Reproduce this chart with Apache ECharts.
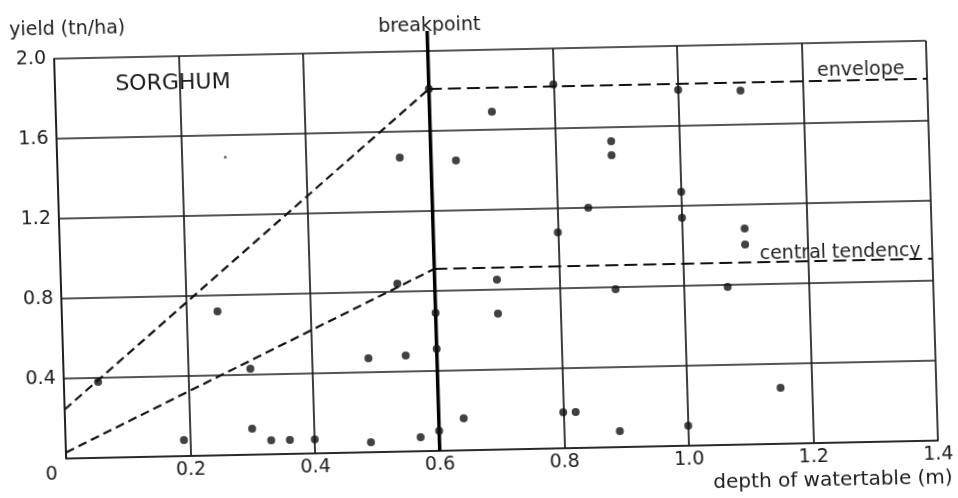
<!DOCTYPE html>
<html>
<head>
<meta charset="utf-8">
<script src="https://cdn.jsdelivr.net/npm/echarts@6/dist/echarts.min.js"></script>
<style>
html, body { margin: 0; padding: 0; background: #fff; overflow: hidden; }
#wrap { position: absolute; left: 0; top: 0; width: 958px; height: 498px; overflow: hidden; }
/* the scanned figure sits a little tilted on the page */
#chart { position: absolute; left: -21px; top: -31px; width: 1000px; height: 560px;
         transform: rotate(-1.18deg) skewX(0.54deg); }
</style>
</head>
<body>
<div id="wrap"><div id="chart"></div></div>
<script>
// depth of watertable (m), yield (tn/ha)
var yieldPoints = [
    [0.055, 0.38], [0.19, 0.08], [0.25, 0.72], [0.30, 0.43], [0.30, 0.13],
    [0.33, 0.07], [0.36, 0.07], [0.40, 0.07], [0.49, 0.47], [0.49, 0.05],
    [0.54, 0.84], [0.55, 1.47], [0.55, 0.48], [0.57, 0.07], [0.60, 0.69],
    [0.60, 0.51], [0.60, 0.10], [0.60, 1.81], [0.64, 1.45], [0.64, 0.16],
    [0.70, 1.69], [0.70, 0.85], [0.70, 0.68], [0.80, 1.82], [0.80, 1.08],
    [0.80, 0.18], [0.82, 0.18], [0.85, 1.20], [0.89, 1.53], [0.89, 1.46],
    [0.89, 0.79], [0.89, 0.08], [1.00, 1.78], [1.00, 1.27], [1.00, 1.14],
    [1.00, 0.10], [1.07, 0.79], [1.10, 1.77], [1.10, 1.08], [1.10, 1.00],
    [1.15, 0.28]
];
var faintPoints = [[0.27, 1.49]];

var envelopeRise = [[0, 0.245], [0.60, 1.81]];
var envelopeFlat = [[0.60, 1.81], [1.4, 1.81]];
var centralRise = [[0, 0.03], [0.60, 0.91]];
var centralFlat = [[0.60, 0.91], [1.4, 0.91]];
var breakpointLine = [[0.60, 0], [0.60, 2.1]];

var xMin = 0, xMax = 1.4, xStep = 0.2;
var yMin = 0, yMax = 2.0, yStep = 0.4;

var ink = '#111';
var font = 'DejaVu Sans';

var gridLine = { color: '#1c1c1c', width: 1.7 };

function dashed(data, dash) {
    return {
        type: 'line',
        data: data,
        symbol: 'none',
        silent: true,
        animation: false,
        clip: false,
        z: 3,
        lineStyle: { color: ink, width: 2.2, type: dash }
    };
}

var option = {
    backgroundColor: '#ffffff',
    animation: false,
    grid: { left: 81, top: 81, width: 872, height: 400 },
    xAxis: {
        type: 'value',
        min: xMin, max: xMax, interval: xStep,
        axisLine: { show: true, lineStyle: gridLine },
        axisTick: { show: false },
        splitLine: { show: true, lineStyle: gridLine },
        axisLabel: {
            margin: 5,
            color: '#1a1a1a',
            fontFamily: font,
            fontSize: 19,
            formatter: function (v) {
                return v === 0 ? '{o|0}' : v.toFixed(1);
            },
            rich: {
                o: { fontFamily: font, fontSize: 19, color: '#1a1a1a', padding: [2, 30, 0, 0] }
            }
        }
    },
    yAxis: {
        type: 'value',
        min: yMin, max: yMax, interval: yStep,
        axisLine: { show: true, lineStyle: gridLine },
        axisTick: { show: false },
        splitLine: { show: true, lineStyle: gridLine },
        axisLabel: {
            margin: 8,
            color: '#1a1a1a',
            fontFamily: font,
            fontSize: 19,
            formatter: function (v) {
                return v === 0 ? '' : v.toFixed(1);
            }
        }
    },
    graphic: [
        { type: 'text', left: 37, top: 43, style: { text: 'yield (tn/ha)', font: '19px "DejaVu Sans"', fill: '#1a1a1a' } },
        { type: 'text', x: 457, y: 56, style: { text: 'breakpoint', font: '19px "DejaVu Sans"', fill: '#1a1a1a', textAlign: 'center', textVerticalAlign: 'middle' } },
        { type: 'text', x: 199, y: 108, style: { text: 'SORGHUM', font: '22px "DejaVu Sans"', fill: '#1a1a1a', textAlign: 'center', textVerticalAlign: 'middle' } },
        { type: 'text', x: 887, y: 109, style: { text: 'envelope', font: '19px "DejaVu Sans"', fill: '#222', textAlign: 'center', textVerticalAlign: 'middle' } },
        { type: 'text', x: 861, y: 291, style: { text: 'central tendency', font: '19px "DejaVu Sans"', fill: '#222', textAlign: 'center', textVerticalAlign: 'middle' } },
        { type: 'text', x: 847, y: 519, style: { text: 'depth of watertable (m)', font: '20px "DejaVu Sans"', fill: '#1a1a1a', textAlign: 'center', textVerticalAlign: 'middle' } }
    ],
    series: [
        dashed(envelopeRise, [9, 5]),
        dashed(envelopeFlat, [13, 6]),
        dashed(centralRise, [9, 5]),
        dashed(centralFlat, [13, 6]),
        {
            type: 'line',
            data: breakpointLine,
            symbol: 'none',
            silent: true,
            clip: false,
            z: 4,
            lineStyle: { color: '#000', width: 3.5 }
        },
        {
            type: 'scatter',
            data: yieldPoints,
            symbolSize: 8,
            z: 5,
            itemStyle: { color: ink }
        },
        {
            type: 'scatter',
            data: faintPoints,
            symbolSize: 3,
            z: 5,
            itemStyle: { color: '#444' }
        }
    ]
};

var chart = echarts.init(document.getElementById('chart'), null, { renderer: 'canvas' });
chart.setOption(option);
</script>
</body>
</html>
